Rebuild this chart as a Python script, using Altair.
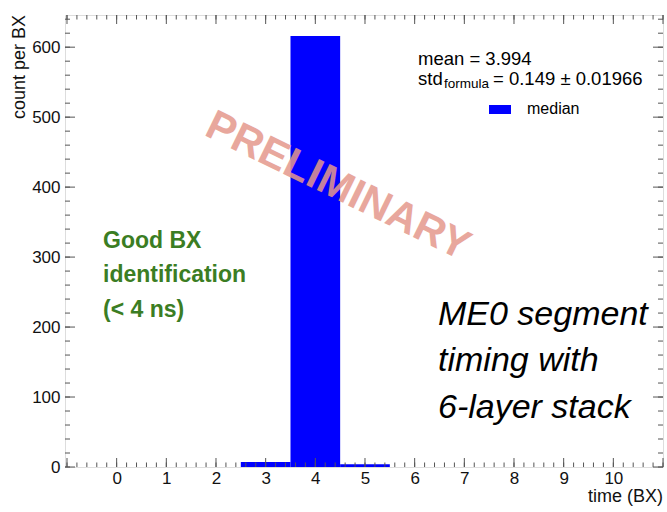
import altair as alt
import pandas as pd
import numpy as np

# ---- data ----
bin_start = [2.5, 3.5, 4.5]
bin_end = [3.5, 4.5, 5.5]
counts = [7, 616, 4]

x_labels = list(range(0, 11))
y_labels = [0, 100, 200, 300, 400, 500, 600]

x_domain = [-1.04, 11.0]
y_domain = [0, 646]

x_major = list(range(-1, 12))
x_minor = [round(v, 2) for v in np.arange(-1.0, 11.001, 0.2)]
y_major = list(range(0, 601, 100))
y_minor = list(range(0, 641, 20))

legend_lines = ["mean = 3.994"]
green_lines = ["Good BX", "identification", "(< 4 ns)"]
italic_lines = ["ME0 segment", "timing with", "6-layer stack"]

W, H = 598, 452
FONT = "Liberation Sans"

xs = alt.Scale(domain=x_domain, nice=False, zero=False)
ys = alt.Scale(domain=y_domain, nice=False, zero=False)

bars_df = pd.DataFrame({"x0": bin_start, "x1": bin_end, "c": counts})

bars = alt.Chart(bars_df).mark_rect(color="#0000ff").encode(
    x=alt.X("x0:Q", scale=xs, axis=alt.Axis(values=x_labels, ticks=False, domain=False, grid=False,
                                            labelFontSize=17, labelFont=FONT, labelColor="#111",
                                            labelPadding=3, title=None, labelFlush=False)),
    x2="x1:Q",
    y=alt.Y("c:Q", scale=ys, axis=alt.Axis(values=y_labels, ticks=False, domain=False, grid=False,
                                           labelFontSize=17, labelFont=FONT, labelColor="#111",
                                           labelPadding=5, title=None)),
    y2=alt.datum(0),
)

tick_col = "#555"

def xticks(vals, length):
    df = pd.DataFrame({"v": vals})
    bottom = alt.Chart(df).mark_rule(color=tick_col, strokeWidth=1).encode(
        x=alt.X("v:Q", scale=xs), y=alt.value(H), y2=alt.value(H - length))
    top = alt.Chart(df).mark_rule(color=tick_col, strokeWidth=1).encode(
        x=alt.X("v:Q", scale=xs), y=alt.value(0), y2=alt.value(length))
    return [bottom, top]

def yticks(vals, length):
    df = pd.DataFrame({"v": vals})
    left = alt.Chart(df).mark_rule(color=tick_col, strokeWidth=1).encode(
        y=alt.Y("v:Q", scale=ys), x=alt.value(0), x2=alt.value(length))
    right = alt.Chart(df).mark_rule(color=tick_col, strokeWidth=1).encode(
        y=alt.Y("v:Q", scale=ys), x=alt.value(W), x2=alt.value(W - length))
    return [left, right]

ticks = xticks(x_major, 9) + xticks(x_minor, 4.5) + yticks(y_major, 10) + yticks(y_minor, 5)


def text_layer(lines, x, ys_px, **kw):
    df = pd.DataFrame({"t": lines, "y": ys_px})
    return alt.Chart(df).mark_text(**kw).encode(
        text="t:N", x=alt.value(x), y=alt.Y("y:Q", scale=None))

# Green annotation
green = text_layer(green_lines, 103 - 65, [248 - 15, 282 - 15, 317 - 15], align="left",
                   baseline="alphabetic", font=FONT, fontSize=23, fontWeight="bold", color="#3b7d23")

# Italic annotation
italic = text_layer(italic_lines, 438 - 65, [325 - 15, 371 - 15, 418 - 15], align="left",
                    baseline="alphabetic", font=FONT, fontSize=34, fontStyle="italic", color="#000")

# Legend texts
def single(text, x, y, **kw):
    return alt.Chart(pd.DataFrame({"t": [text]})).mark_text(**kw).encode(
        text="t:N", x=alt.value(x), y=alt.value(y))

leg_kw = dict(align="left", baseline="alphabetic", font=FONT, color="#000")
mean_t = single(legend_lines[0], 418 - 65, 65 - 15, fontSize=18.5, **leg_kw)
std_t = single("std", 418 - 65, 85 - 15, fontSize=18.5, **leg_kw)
sub_t = single("formula", 444 - 65, 88 - 15, fontSize=13.5, **leg_kw)
std_v = single("= 0.149 \u00b1 0.01966", 493 - 65, 85 - 15, fontSize=18.5, **leg_kw)
med_t = single("median", 527 - 65, 109 - 15, fontSize=16, align="left", baseline="middle",
               font=FONT, color="#000")
med_box = alt.Chart(pd.DataFrame({"k": ["median"]})).mark_rect(color="#0000ff").encode(
    x=alt.value(489 - 65), x2=alt.value(511 - 65), y=alt.value(105 - 15), y2=alt.value(114 - 15))

# Preliminary watermark
prelim = single("PRELIMINARY", 338 - 65, 186 - 15, fontSize=42, fontWeight="bold", angle=26,
                align="center", baseline="middle", font=FONT, color="#e5988c", opacity=0.85)

# Axis titles
ytitle = single("count per BX", -45, 0, fontSize=18, angle=270, align="right", baseline="middle",
                font=FONT, color="#111")
xtitle = single("time (BX)", W, 497 - 15, fontSize=18, align="right", baseline="middle",
                font=FONT, color="#111")

chart = alt.layer(
    bars, *ticks, green, italic, mean_t, std_t, sub_t, std_v, med_t, med_box, prelim, ytitle, xtitle
).properties(
    width=W, height=H,
    padding={"left": 65, "top": 15, "right": 4, "bottom": 45},
    autosize="none",
).configure_view(stroke="#333", strokeWidth=1.2).configure(background="white")

chart.save("out.html", embed_options={"renderer": "svg", "actions": False})
